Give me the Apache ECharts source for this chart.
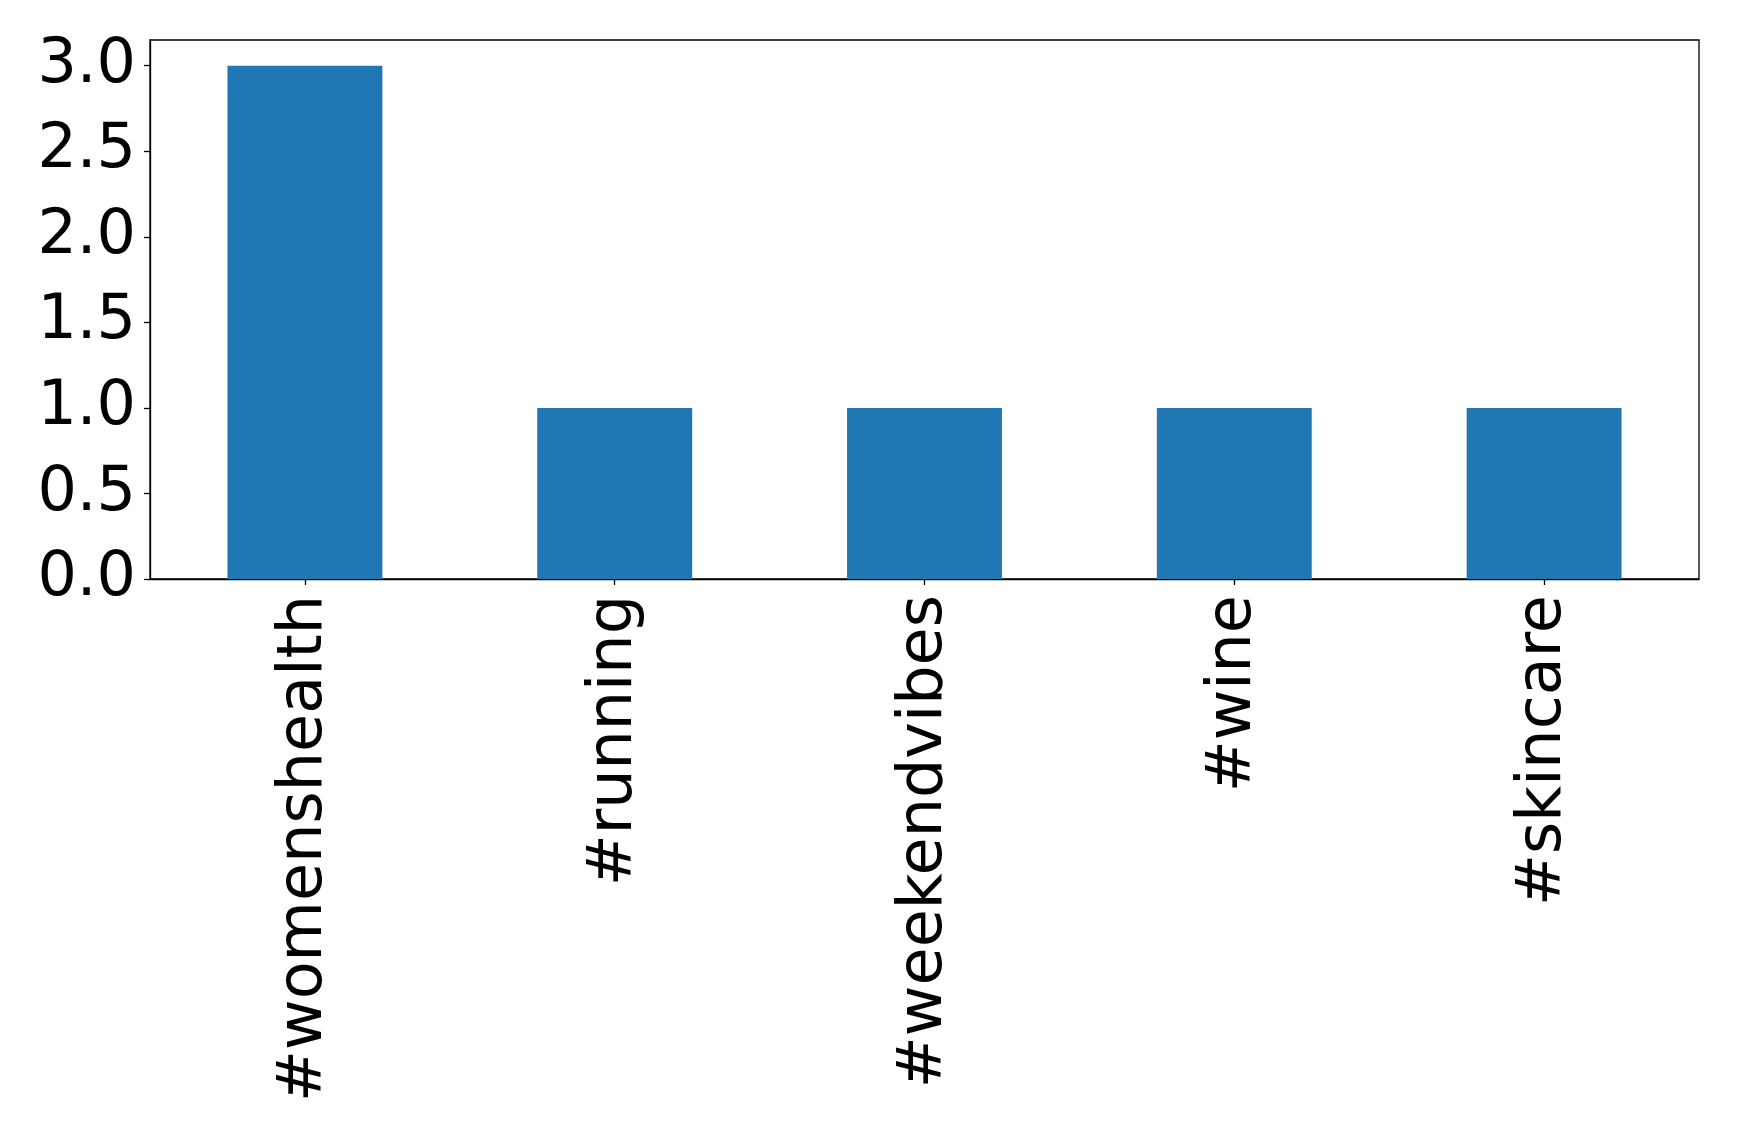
<!DOCTYPE html>
<html>
<head>
<meta charset="utf-8">
<script src="https://cdn.jsdelivr.net/npm/echarts@6/dist/echarts.min.js"></script>
<style>
html,body{margin:0;padding:0;background:#fff;}
#chart{width:1739px;height:1139px;}
</style>
</head>
<body>
<div id="chart"></div>
<script>
const categories = ['#womenshealth', '#running', '#weekendvibes', '#wine', '#skincare'];
const counts = [3, 1, 1, 1, 1];
const yTicks = [0, 0.5, 1.0, 1.5, 2.0, 2.5, 3.0];

const chart = echarts.init(document.getElementById('chart'), null, {renderer: 'canvas'});
const font = '"DejaVu Sans", sans-serif';
chart.setOption({
  animation: false,
  backgroundColor: '#ffffff',
  grid: {
    left: 150, right: 40, top: 40, bottom: 560,
    show: true, borderColor: '#000', borderWidth: 1.3, backgroundColor: 'transparent'
  },
  xAxis: {
    type: 'category',
    data: categories,
    boundaryGap: true,
    axisLine: {show: true, lineStyle: {color: '#000', width: 1.3}},
    axisTick: {show: true, alignWithLabel: true, length: 6, lineStyle: {color: '#000', width: 1.3}},
    axisLabel: {
      rotate: 90, interval: 0, margin: 16,
      fontFamily: font, fontSize: 62, color: '#000'
    },
    splitLine: {show: false}
  },
  yAxis: {
    type: 'value',
    min: 0, max: 3.15, interval: 0.5,
    axisLine: {show: true, lineStyle: {color: '#000', width: 1.3}},
    axisTick: {show: true, length: 6, lineStyle: {color: '#000', width: 1.3}, customValues: yTicks},
    axisLabel: {
      margin: 14, fontFamily: font, fontSize: 62, color: '#000',
      customValues: yTicks,
      formatter: v => Number(v).toFixed(1)
    },
    splitLine: {show: false}
  },
  series: [{
    type: 'bar',
    data: counts,
    barWidth: '50%',
    itemStyle: {color: '#1f77b4'}
  }]
});
</script>
</body>
</html>
